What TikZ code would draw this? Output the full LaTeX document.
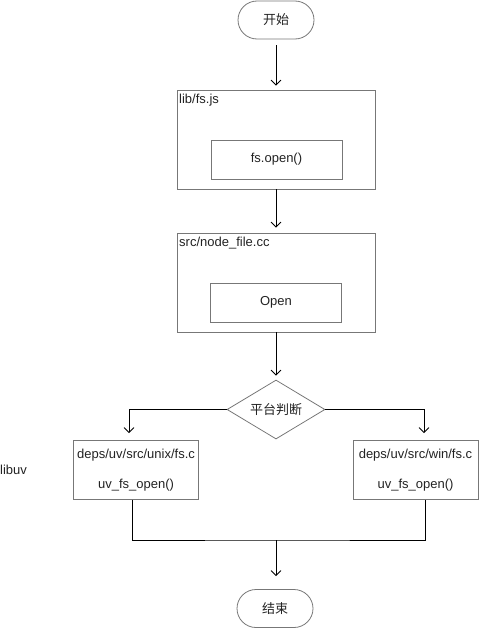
\documentclass[tikz,border=0pt]{standalone}
\usepackage{fontspec}
\setmainfont{Liberation Sans}
\newfontfamily\cjk{Noto Sans CJK SC}
\usetikzlibrary{arrows.meta,shapes.geometric}
\definecolor{bord}{HTML}{777777}
\definecolor{txt}{HTML}{222222}
\tikzset{
  base/.style={draw=bord,line width=0.8pt,text=txt,inner sep=0pt,font=\fontsize{13}{16}\selectfont},
  term/.style={base,rounded corners=19pt,minimum width=76pt,minimum height=38pt},
  box/.style={base,minimum width=#1,minimum height=99pt},
  inner/.style={base,minimum width=131pt,minimum height=39pt},
  libbox/.style={base,minimum width=125pt,minimum height=59pt,align=center},
  title/.style={text=txt,inner sep=0pt,font=\fontsize{13}{16}\selectfont},
  arr/.style={draw=black,line width=0.8pt,-{Straight Barb[length=5pt,width=10pt]}},
  ln/.style={draw=black,line width=0.8pt}
}
\begin{document}
\begin{tikzpicture}[x=1pt,y=-1pt]
\useasboundingbox (0,0) rectangle (479,629);
\node[term] (start) at (276,20) {\cjk 开始};
\node[box=198pt] (lib) at (276,139.5) {};
\node[title,anchor=west] (libt) at (179,100) {lib/fs.js};
\node[inner] (fsopen) at (276.5,159.5) {fs.open()};
\node[box=198pt] (src) at (276,282.5) {};
\node[title,anchor=west] (srct) at (179,243) {src/node\_file.cc};
\node[inner] (open) at (276,302.5) {Open};
\node[base,shape=diamond,aspect=1.66,minimum width=98pt,minimum height=59pt] (dia) at (276,409.5) {\cjk 平台判断};
\node[libbox] (unix) at (136,470) {deps/uv/src/unix/fs.c\\[14pt]uv\_fs\_open()};
\node[libbox] (win) at (415.5,470) {deps/uv/src/win/fs.c\\[14pt]uv\_fs\_open()};
\node[title,anchor=west] (libuv) at (0,470) {libuv};
\node[term] (end) at (275,608.5) {\cjk 结束};
\coordinate (join) at (276,540);
\draw[arr,shorten <=6pt,shorten >=4pt] (start) -- (lib);
\draw[arr,shorten >=5pt] (lib) -- (src);
\draw[arr,shorten >=4pt] (src) -- (dia);
\draw[arr,shorten >=7pt] (dia.west) -| ([xshift=-7pt]unix.north);
\draw[arr,shorten >=7pt] (dia.east) -| ([xshift=8.5pt]win.north);
\draw[ln] ([xshift=-4pt]unix.south) |- (join) -| ([xshift=10pt]win.south);
\draw[arr,shorten >=13pt] (join) -- (join |- end.north);
\end{tikzpicture}
\end{document}
